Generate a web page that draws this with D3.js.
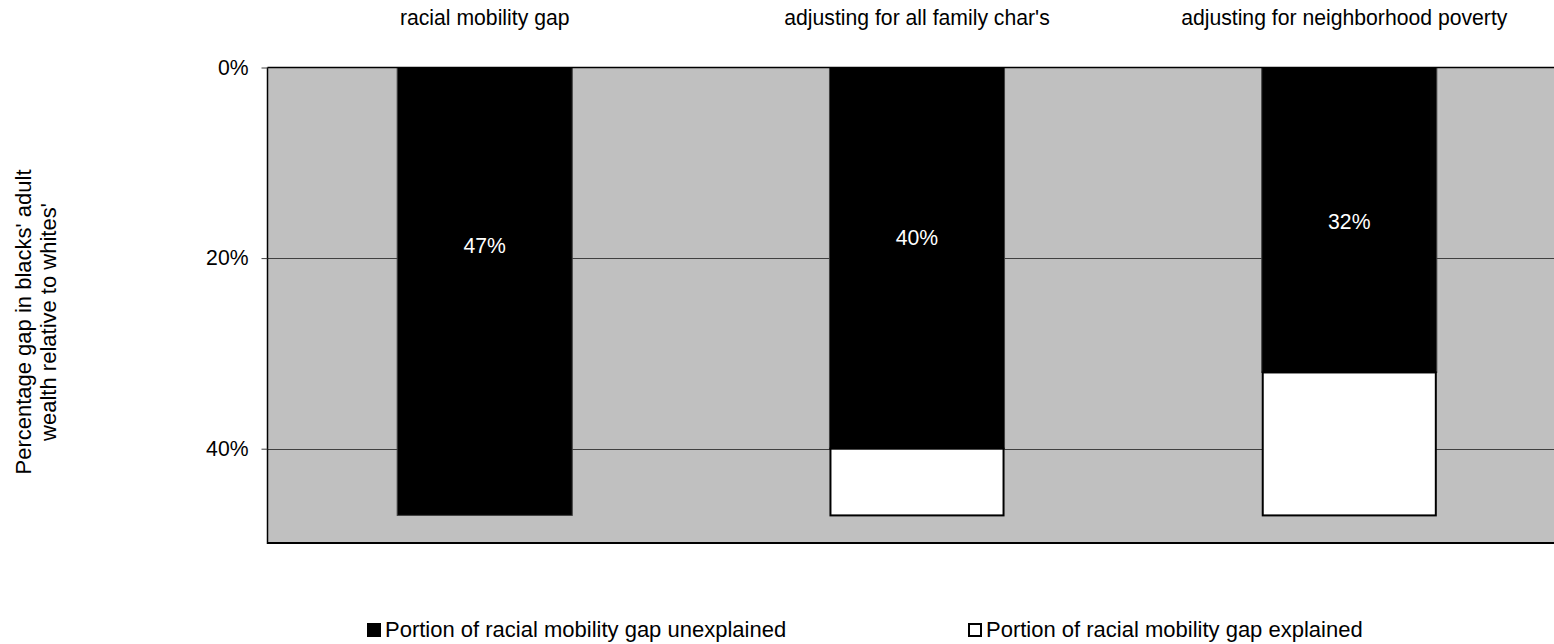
<!DOCTYPE html>
<html>
<head>
<meta charset="utf-8">
<script src="https://cdn.jsdelivr.net/npm/d3@7/dist/d3.min.js"></script>
<style>
  html, body { margin: 0; padding: 0; background: #fff; }
  svg { display: block; font-family: "Liberation Sans", Arial, sans-serif; }
</style>
</head>
<body>
<svg id="chart" width="1554" height="644"></svg>
<script>
// Categories and stacked series (percent)
const categories = ["racial mobility gap", "adjusting for all family char's", "adjusting for neighborhood poverty"];
const unexplained = [47, 40, 32];
const explained = [0, 7, 15];
const seriesNames = ["Portion of racial mobility gap unexplained", "Portion of racial mobility gap explained"];
const yTicks = [0, 20, 40];

// Where each value label sits along the bar, in axis units
const labelAt = [18.7, 17.8, 16.2];

const svg = d3.select("#chart");
const plot = { left: 267.5, top: 67.5, right: 1566.5, bottom: 544 };
const fontSize = 21.2;
const legendFont = 22;

const x = d3.scaleBand().domain(categories).range([plot.left, plot.right]).paddingInner(0.595).paddingOuter(0.3);
const y = d3.scaleLinear().domain([0, 50]).range([plot.top, plot.bottom]);

// Plot background
svg.append("rect")
  .attr("x", plot.left).attr("y", plot.top)
  .attr("width", plot.right - plot.left).attr("height", plot.bottom - plot.top)
  .attr("fill", "#c0c0c0");

// Gridlines
svg.append("g").selectAll("line").data(yTicks.filter(d => d > 0)).join("line")
  .attr("x1", plot.left).attr("x2", plot.right)
  .attr("y1", d => Math.round(y(d)) + 0.5).attr("y2", d => Math.round(y(d)) + 0.5)
  .attr("stroke", "#404040").attr("stroke-width", 1);

// Stacked bars
const stackData = categories.map((c, i) => ({ cat: c, unexplained: unexplained[i], explained: explained[i] }));
const stack = d3.stack().keys(["unexplained", "explained"])(stackData);

svg.append("g").selectAll("rect").data(stack[0]).join("rect")
  .attr("x", d => x(d.data.cat))
  .attr("y", d => y(d[0]))
  .attr("width", x.bandwidth())
  .attr("height", d => y(d[1]) - y(d[0]))
  .attr("fill", "#000").attr("stroke", "#404040").attr("stroke-width", 1);

svg.append("g").selectAll("rect").data(stack[1].filter(d => d[1] > d[0])).join("rect")
  .attr("x", d => x(d.data.cat) + 1)
  .attr("y", d => y(d[0]))
  .attr("width", x.bandwidth() - 2)
  .attr("height", d => y(d[1]) - y(d[0]))
  .attr("fill", "#fff").attr("stroke", "#000").attr("stroke-width", 2);

// Value labels
svg.append("g").selectAll("text").data(stackData).join("text")
  .attr("x", d => x(d.cat) + x.bandwidth() / 2)
  .attr("y", (d, i) => y(labelAt[i]))
  .attr("dy", "0.35em")
  .attr("text-anchor", "middle")
  .attr("fill", "#fff").attr("font-size", fontSize)
  .text(d => d.unexplained + "%");

// Axis frame
svg.append("line").attr("x1", plot.left).attr("x2", plot.right).attr("y1", plot.top).attr("y2", plot.top)
  .attr("stroke", "#000").attr("stroke-width", 1.5);
svg.append("line").attr("x1", plot.left).attr("x2", plot.right).attr("y1", plot.bottom - 1).attr("y2", plot.bottom - 1)
  .attr("stroke", "#000").attr("stroke-width", 2);
svg.append("line").attr("x1", plot.left).attr("x2", plot.left).attr("y1", plot.top).attr("y2", plot.bottom)
  .attr("stroke", "#000").attr("stroke-width", 1.5);

// Y axis ticks and labels
const yAxis = d3.axisLeft(y).tickValues(yTicks).tickSize(6).tickFormat(d => d + "%");
const gy = svg.append("g").attr("transform", `translate(${plot.left},0)`).call(yAxis);
gy.select(".domain").remove();
gy.selectAll(".tick line").attr("stroke", "#404040");
gy.selectAll(".tick text").attr("font-size", fontSize).attr("fill", "#000")
  .attr("font-family", "Liberation Sans, Arial, sans-serif").attr("x", -19);

// Category labels along the top
svg.append("g").selectAll("text").data(categories).join("text")
  .attr("x", (d, i) => x(d) + x.bandwidth() / 2 - (i === 2 ? 5 : 0))
  .attr("y", 25)
  .attr("text-anchor", "middle").attr("font-size", fontSize).attr("fill", "#000")
  .text(d => d);

// Y axis title
const title = svg.append("text")
  .attr("transform", "translate(0,322) rotate(-90)")
  .attr("text-anchor", "middle").attr("font-size", legendFont).attr("fill", "#000");
title.append("tspan").attr("x", 0).attr("y", 31).text("Percentage gap in blacks' adult");
title.append("tspan").attr("x", 0).attr("y", 56).text("wealth relative to whites'");

// Legend
const legendX = [367, 968];
const lg = svg.append("g").selectAll("g").data(seriesNames).join("g")
  .attr("transform", (d, i) => `translate(${legendX[i]},623)`);
lg.append("rect")
  .attr("x", (d, i) => i === 0 ? 0 : 1).attr("y", (d, i) => i === 0 ? 0 : 1)
  .attr("width", (d, i) => i === 0 ? 14 : 12).attr("height", (d, i) => i === 0 ? 14 : 12)
  .attr("fill", (d, i) => i === 0 ? "#000" : "#fff")
  .attr("stroke", "#000").attr("stroke-width", (d, i) => i === 0 ? 0 : 2);
lg.append("text").attr("x", 18).attr("y", 13.5)
  .attr("font-size", legendFont).attr("fill", "#000")
  .text(d => d);
</script>
</body>
</html>
